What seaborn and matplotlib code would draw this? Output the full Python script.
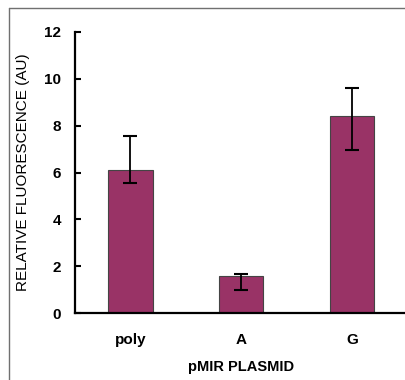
import matplotlib
matplotlib.use("Agg")
import matplotlib.pyplot as plt
import seaborn as sns
import pandas as pd
from matplotlib.lines import Line2D

categories = ["poly", "A", "G"]
values = [6.1, 1.6, 8.4]
err_upper = [1.47, 0.07, 1.2]
err_lower = [0.55, 0.62, 1.44]
yticks = [0, 2, 4, 6, 8, 10, 12]

sns.set_theme(style="white")
plt.rcParams['font.family'] = ['Liberation Sans', 'DejaVu Sans']
plt.rcParams['text.color'] = 'black'
plt.rcParams['axes.labelcolor'] = 'black'
plt.rcParams['xtick.color'] = 'black'
plt.rcParams['ytick.color'] = 'black'

fig = plt.figure(figsize=(4.05, 3.8), dpi=100)
ax = fig.add_axes([75/405, 1-313.3/380, (407.5-75)/405, (313.3-31.7)/380])

df = pd.DataFrame({"plasmid": categories, "value": values})
sns.barplot(data=df, x="plasmid", y="value", ax=ax, color="#993366",
            saturation=1, width=0.4, errorbar=None,
            edgecolor="#444444", linewidth=0.8)

xs = [p.get_x() + p.get_width()/2 for p in ax.patches]
ax.errorbar(xs, values, yerr=[err_lower, err_upper], fmt="none",
            ecolor="black", elinewidth=1.3, capsize=5, capthick=1.5, zorder=5)

ax.set_xlim(-0.5, 2.5)
ax.set_ylim(0, 12)
ax.set_yticks(yticks)
ax.set_yticklabels([str(t) for t in yticks], fontsize=11, fontweight="bold", color="black")
ax.set_xticks(range(len(categories)))
ax.set_xticklabels(categories, fontsize=11, fontweight="bold", color="black")
ax.tick_params(axis="y", direction="in", length=4, width=1.5, pad=10, left=True, colors="black")
ax.tick_params(axis="x", length=0, pad=14)
for s in ["top", "right"]:
    ax.spines[s].set_visible(False)
for s in ["left", "bottom"]:
    ax.spines[s].set_color("black")
    ax.spines[s].set_linewidth(1.6)

ax.set_xlabel("pMIR PLASMID", fontsize=10.5, fontweight="bold", color="black")
ax.set_ylabel("RELATIVE FLUORESCENCE (AU)", fontsize=11, fontweight="normal", color="black")
ax.yaxis.set_label_coords(-45/332.5, 0.5)
ax.xaxis.set_label_coords(0.5, -(360-313.3)/281.6)

# outer grey frame (cropped at right and bottom)
fig.add_artist(Line2D([8.5/405, 8.5/405], [0, 1-7.5/380], color="#707070", lw=1, transform=fig.transFigure))
fig.add_artist(Line2D([8.5/405, 1], [1-7.5/380, 1-7.5/380], color="#707070", lw=1, transform=fig.transFigure))

fig.savefig("out.png", dpi=100)
